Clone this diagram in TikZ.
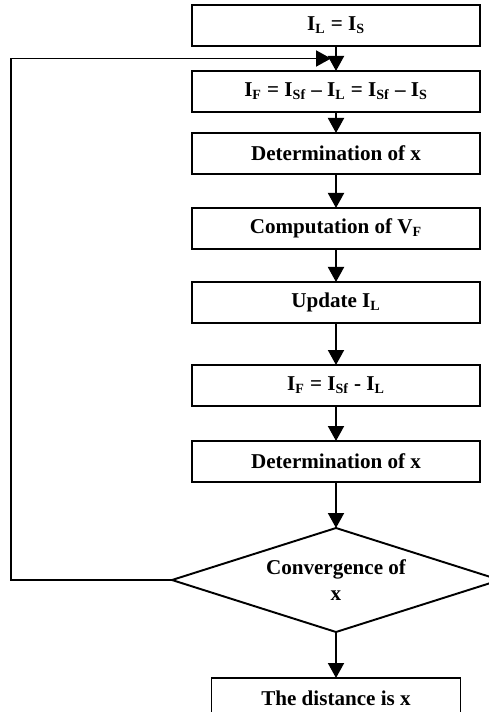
\documentclass[tikz,border=0pt]{standalone}
\usepackage{fontspec}
\setmainfont{Liberation Serif}
\usepackage{tikz}
\usetikzlibrary{
  shapes.geometric,
  arrows.meta,
  positioning,
  calc
}
\tikzset{
  stepbox/.style={
    rectangle, draw, line width=1.1pt, outer sep=0pt,
    minimum width=5.76cm, minimum height=0.82cm,
    font=\fontsize{12}{14}\selectfont\bfseries, text centered, inner sep=2pt
  },
  decision/.style={
    diamond, draw, line width=1.1pt, outer sep=0pt, aspect=3.15, inner sep=0pt,
    minimum width=6.56cm, minimum height=2.08cm,
    font=\fontsize{12}{14.8}\selectfont\bfseries, align=center
  },
  arrow/.style={-{Triangle[length=0.3cm, width=0.32cm]}, line width=1.1pt},
}

\begin{document}
\begin{tikzpicture}
\useasboundingbox (0,0) rectangle (9.76,-14.24);

% Main chain (top to bottom)
\node[stepbox] (init) at (6.72,-0.51) {I\textsubscript{L} = I\textsubscript{S}};
\node[stepbox, below=0.5cm of init] (fault) {I\textsubscript{F} = I\textsubscript{Sf} -- I\textsubscript{L} = I\textsubscript{Sf} -- I\textsubscript{S}};
\node[stepbox, below=0.42cm of fault] (detx) {Determination of x};
\node[stepbox, below=0.68cm of detx] (compv) {Computation of V\textsubscript{F}};
\node[stepbox, below=0.66cm of compv] (upd) {Update I\textsubscript{L}};
\node[stepbox, below=0.84cm of upd] (newf) {I\textsubscript{F} = I\textsubscript{Sf} - I\textsubscript{L}};
\node[stepbox, below=0.7cm of newf] (detx2) {Determination of x};

% Decision and result
\node[decision, below=0.92cm of detx2] (conv) {Convergence of\\x};
\node[stepbox, minimum width=4.98cm, below=0.92cm of conv] (result) {The distance is x};

% Arrows
\draw[arrow] (init) -- (fault);
\draw[arrow] (fault) -- (detx);
\draw[arrow] (detx) -- (compv);
\draw[arrow] (compv) -- (upd);
\draw[arrow] (upd) -- (newf);
\draw[arrow] (newf) -- (detx2);
\draw[arrow] (detx2) -- (conv);
\draw[arrow] (conv) -- (result);

% Feedback loop
\coordinate (loopin) at ($(init.south)!0.5!(fault.north)$);
\coordinate (loopcorner) at (0.22,0 |- conv.west);
\draw[arrow] (conv.west) -- (loopcorner) |- ([xshift=-0.1cm]loopin);

\end{tikzpicture}
\end{document}
